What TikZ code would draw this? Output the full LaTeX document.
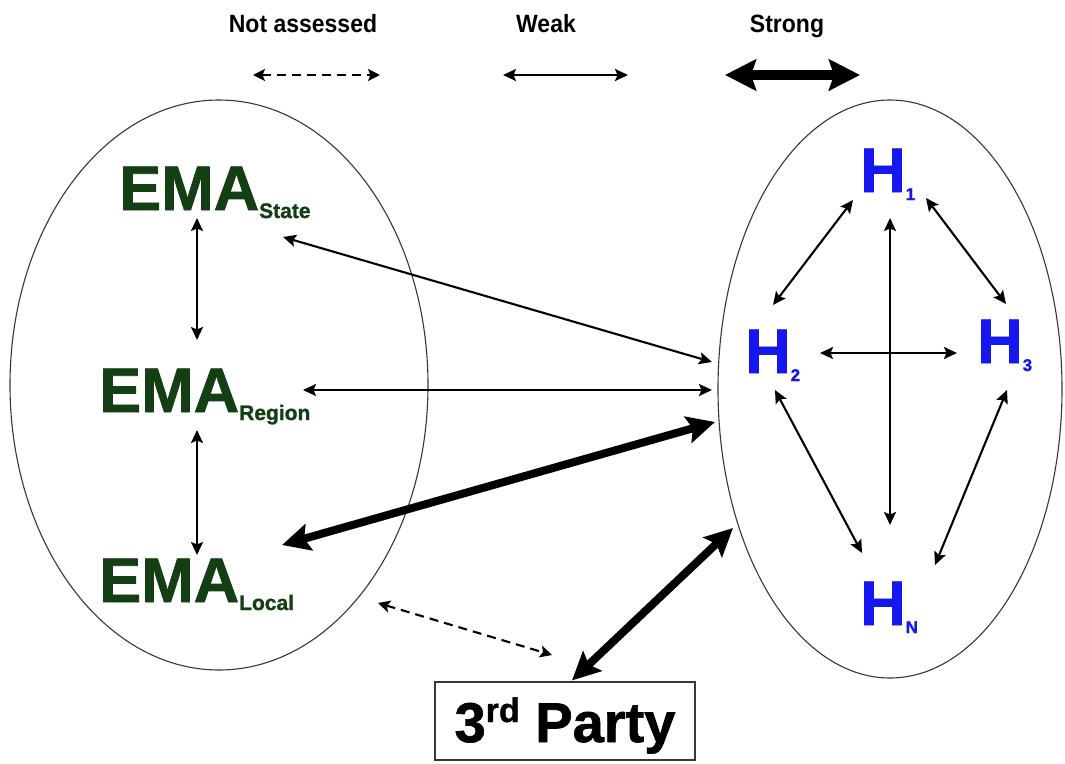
\documentclass[tikz,border=0pt]{standalone}
\usepackage{fontspec}
\setmainfont{Liberation Sans}[BoldFeatures={FakeBold=1.2}]
\newfontfamily\legendfont{Liberation Sans}
\usetikzlibrary{arrows.meta,shapes.geometric}
\definecolor{emagreen}{RGB}{20,62,20}
\definecolor{hblue}{RGB}{22,22,238}
\definecolor{rimgray}{RGB}{55,55,55}
\newcommand{\emalabel}[1]{{\fontsize{63}{63}\selectfont EMA}\raisebox{-8pt}{\fontsize{21}{21}\selectfont #1}}
\newcommand{\hlabel}[1]{{\fontsize{63}{63}\selectfont H}\raisebox{-8pt}{\fontsize{17}{17}\selectfont #1}}
\newcommand{\legendword}[1]{\scalebox{0.92}[1]{\legendfont\bfseries\fontsize{25}{25}\selectfont #1}}
\tikzset{
  emanode/.style={anchor=base west, inner sep=0pt, text=emagreen, font=\bfseries},
  hnode/.style={anchor=base west, inner sep=0pt, text=hblue, font=\bfseries},
  legendtext/.style={anchor=base, inner sep=0pt},
  groupring/.style={ellipse, draw=rimgray, line width=1.1pt, inner sep=0pt},
  weakarr/.style={line width=2.1pt,
     {Stealth[length=13pt,width=12pt,inset=2.5pt]}-{Stealth[length=13pt,width=12pt,inset=2.5pt]}},
  strongarr/.style={line width=8pt,
     {Stealth[length=28pt,width=27pt,inset=5pt]}-{Stealth[length=28pt,width=27pt,inset=5pt]}},
  legstrongarr/.style={line width=9.5pt,
     {Stealth[length=31pt,width=31pt,inset=5pt]}-{Stealth[length=31pt,width=31pt,inset=5pt]}},
  dasharr/.style={line width=2.1pt, dash pattern=on 9pt off 6pt,
     {Stealth[length=12pt,width=12pt,inset=2.5pt]}-{Stealth[length=12pt,width=12pt,inset=2.5pt]}},
}
\begin{document}
\begin{tikzpicture}[x=1pt,y=-1pt]
\useasboundingbox[fill=white] (0,0) rectangle (1065,763);

% legend
\node[legendtext] (lna) at (303,32) {\legendword{Not assessed}};
\node[legendtext] (lwk) at (546,32) {\legendword{Weak}};
\node[legendtext] (lst) at (787,32) {\legendword{Strong}};
\coordinate (na1) at (253,75); \coordinate (na2) at (380,75);
\coordinate (wk1) at (503,75); \coordinate (wk2) at (628,75);
\coordinate (st1) at (725,75); \coordinate (st2) at (860,75);
\draw[dasharr] (na1) -- (na2);
\draw[weakarr] (wk1) -- (wk2);
\draw[legstrongarr] (st1) -- (st2);

% group rings
\node[groupring, minimum width=418pt, minimum height=570pt] (leftE) at (219,385) {};
\node[groupring, minimum width=344pt, minimum height=578pt] (rightE) at (890,389) {};

% EMA labels
\node[emanode] (emaS) at (119,210) {\emalabel{State}};
\node[emanode] (emaR) at (99,412) {\emalabel{Region}};
\node[emanode] (emaL) at (99,602) {\emalabel{Local}};

% H labels
\node[hnode] (h1) at (860,192) {\hlabel{1}};
\node[hnode] (h2) at (745,373) {\hlabel{2}};
\node[hnode] (h3) at (977,363) {\hlabel{3}};
\node[hnode] (hN) at (860,625) {\hlabel{N}};

% 3rd party
\node[draw=rimgray, line width=1.2pt, minimum width=260pt, minimum height=78pt,
      text height=46pt, text depth=4pt, inner sep=0pt, font=\bfseries] (third) at (565,721)
  {\fontsize{56}{56}\selectfont 3\raisebox{20pt}{\fontsize{34}{34}\selectfont rd} Party};

% EMA chain
\draw[weakarr] ([shift={(78,8)}]emaS.base west) -- ([shift={(98,-72)}]emaR.base west);
\draw[weakarr] ([shift={(98,18)}]emaR.base west) -- ([shift={(98,-47)}]emaL.base west);

% EMA to hospitals
\draw[weakarr] ([shift={(164,27)}]emaS.base west) -- ([shift={(-33,-11)}]h2.base west);
\draw[weakarr] ([shift={(204,-22)}]emaR.base west) -- ([shift={(-33,17)}]h2.base west);
\draw[strongarr] ([shift={(183,-57)}]emaL.base west) -- ([shift={(-30,49)}]h2.base west);

% 3rd party links
\draw[strongarr] ([shift={(7,-1)}]third.north) -- ([shift={(-157,139)}]rightE.center);
\draw[dasharr] ([shift={(279,1)}]emaL.base west) -- ([shift={(-13,-66)}]third.center);

% hospital mesh
\draw[weakarr] ([shift={(-7,8)}]h1.base west) -- ([shift={(28,-68)}]h2.base west);
\draw[weakarr] ([shift={(66,6)}]h1.base west) -- ([shift={(29,-59)}]h3.base west);
\draw[weakarr] ([shift={(30,26)}]h1.base west) -- ([shift={(30,-100)}]hN.base west);
\draw[weakarr] ([shift={(75,-20)}]h2.base west) -- ([shift={(-20,-10)}]h3.base west);
\draw[weakarr] ([shift={(30,17)}]h2.base west) -- ([shift={(2,-72)}]hN.base west);
\draw[weakarr] ([shift={(30,27)}]h3.base west) -- ([shift={(75,-60)}]hN.base west);
\end{tikzpicture}
\end{document}
